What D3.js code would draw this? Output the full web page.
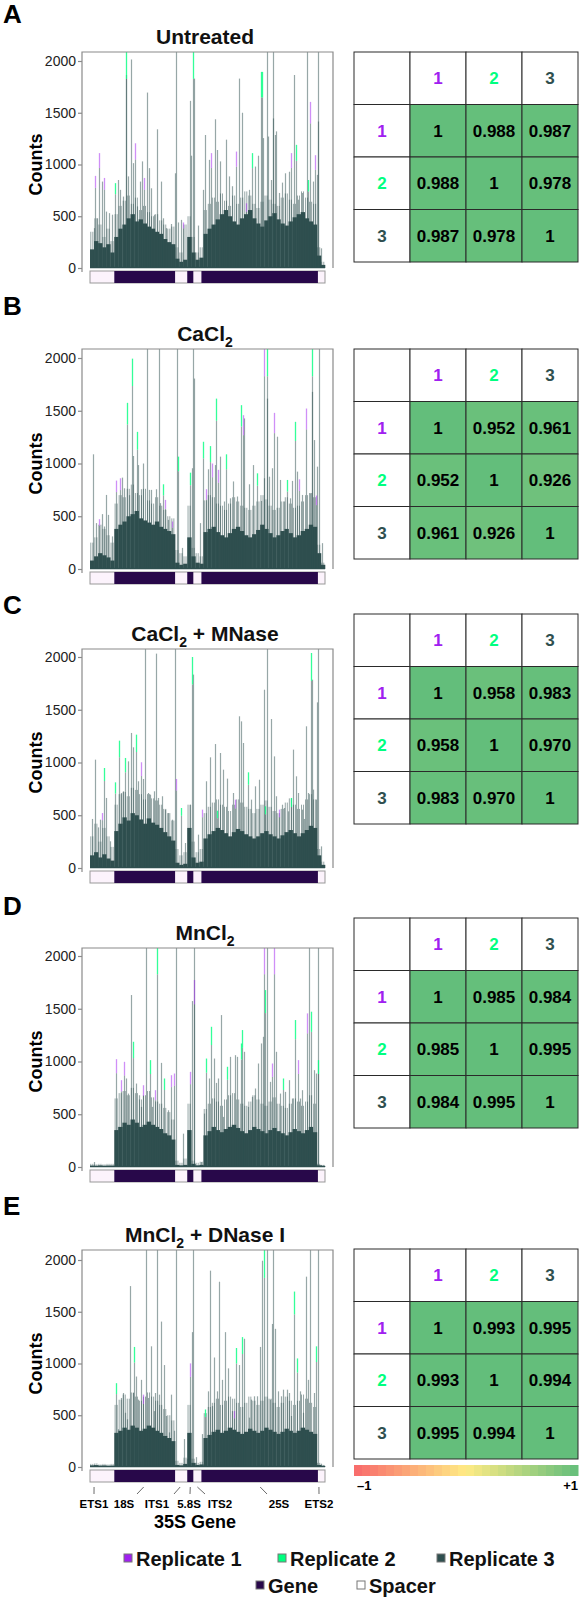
<!DOCTYPE html>
<html>
<head>
<meta charset="utf-8" />
<script src="https://cdn.jsdelivr.net/npm/d3@7"></script>
<style>
  body { margin: 0; background: #fff; }
  text { font-family: "Liberation Sans", Arial, sans-serif; }
</style>
</head>
<body>
<div id="fig"></div>
<script>
var W = 580, H = 1598;

// 35S locus in ~30 bp bins (0..232)
var nBins = 232;
var regions = ["ETS1", "18S", "ITS1", "5.8S", "ITS2", "25S", "ETS2"];
var regionStart = [0, 24, 84, 96, 102, 110, 225];
var regionEnd = [24, 84, 96, 102, 110, 225, 232];
var regionType = ["Spacer", "Gene", "Spacer", "Gene", "Spacer", "Gene", "Spacer"];
var labelBins = [4, 53, 89, 99, 106, 168, 226];

var panelLetters = ["A", "B", "C", "D", "E"];
var panelTitles = ["Untreated", "CaCl_2", "CaCl_2 + MNase", "MnCl_2", "MnCl_2 + DNase I"];
var yTicks = [0, 500, 1000, 1500, 2000];
var repNames = ["Replicate 1", "Replicate 2", "Replicate 3"];
var repColors = ["#a020f0", "#00ff7f", "#2f4f4f"];
var matrixLabels = ["1", "2", "3"];

// solid coverage of all replicates, one value per 4 locus bins
var baseUntreated = [180, 260, 240, 200, 230, 150,
  300, 380, 420, 480, 520, 450, 470, 430, 400, 380, 350, 330, 280, 250, 230,
  90, 60, 80, 300, 150, 80, 100,
  330, 380, 420, 470, 520, 560, 500, 450, 420, 480, 520, 560, 480, 430, 400, 460, 500, 530, 470, 430, 410, 450, 490, 520, 540, 480, 450, 420,
  120, 30];
var baseCaCl2 = [80, 120, 150, 130, 110, 80,
  380, 420, 450, 500, 520, 550, 480, 460, 440, 420, 450, 400, 380, 360, 330,
  60, 40, 50, 300, 120, 60, 50,
  350, 380, 400, 350, 320, 300, 340, 380, 400, 360, 320, 300, 330, 370, 420, 380, 340, 300, 320, 360, 380, 340, 300, 320, 360, 380, 420, 400,
  150, 40];
var baseCaCl2MNase = [120, 150, 100, 130, 90, 70,
  350, 420, 480, 450, 520, 500, 460, 420, 470, 430, 410, 380, 340, 300, 260,
  50, 30, 40, 380, 100, 50, 60,
  280, 320, 350, 380, 360, 330, 300, 340, 370, 350, 320, 300, 280, 300, 330, 350, 320, 300, 280, 310, 340, 360, 330, 300, 330, 360, 400, 380,
  120, 30];
var baseMnCl2 = [12, 10, 14, 10, 12, 12,
  350, 380, 420, 400, 450, 420, 380, 400, 430, 400, 380, 360, 320, 300, 260,
  20, 15, 20, 350, 30, 15, 20,
  300, 340, 380, 350, 330, 360, 380, 400, 370, 340, 320, 350, 380, 360, 340, 320, 350, 370, 340, 320, 300, 330, 360, 340, 320, 350, 380, 330,
  15, 10];
var baseMnCl2DNase = [15, 18, 12, 14, 10, 12,
  330, 350, 380, 360, 400, 380, 350, 370, 400, 380, 350, 330, 300, 280, 250,
  20, 15, 30, 330, 40, 20, 25,
  280, 310, 340, 360, 330, 350, 380, 360, 340, 320, 340, 370, 350, 330, 350, 380, 360, 340, 320, 340, 370, 350, 330, 350, 380, 360, 340, 320,
  20, 10];

// upper edge of the dense band of overlapping bars, one value per 4 locus bins
var fuzzUntreated = [350, 480, 420, 300, 380, 260,
  520, 600, 650, 700, 620, 680, 560, 600, 540, 500, 520, 460, 420, 380, 400,
  200, 150, 420, 500, 300, 150, 200,
  560, 620, 680, 640, 720, 650, 600, 700, 620, 680, 740, 700, 620, 580, 640, 700, 660, 620, 600, 680, 720, 660, 620, 700, 740, 680, 640, 620,
  200, 60];
var fuzzCaCl2 = [250, 300, 420, 380, 320, 250,
  620, 700, 680, 760, 800, 720, 700, 760, 650, 620, 680, 600, 560, 500, 480,
  180, 150, 120, 600, 200, 150, 120,
  650, 700, 680, 620, 600, 560, 620, 680, 640, 600, 580, 560, 600, 640, 700, 660, 600, 560, 580, 640, 680, 620, 580, 600, 640, 700, 720, 680,
  230, 60];
var fuzzCaCl2MNase = [300, 420, 250, 380, 300, 200,
  600, 700, 720, 680, 760, 740, 700, 650, 700, 660, 640, 600, 560, 520, 450,
  180, 120, 150, 600, 250, 150, 180,
  520, 580, 620, 650, 600, 580, 540, 600, 650, 620, 580, 560, 520, 560, 600, 640, 580, 540, 520, 560, 620, 660, 600, 560, 600, 650, 700, 650,
  180, 60];
var fuzzMnCl2 = [30, 25, 30, 25, 30, 30,
  650, 700, 720, 680, 750, 700, 640, 680, 720, 660, 620, 600, 560, 520, 450,
  60, 40, 80, 600, 60, 40, 50,
  550, 600, 650, 620, 580, 640, 680, 700, 640, 600, 580, 620, 680, 640, 600, 580, 620, 660, 600, 580, 560, 600, 650, 620, 580, 620, 680, 600,
  30, 20];
var fuzzMnCl2DNase = [30, 35, 25, 30, 25, 30,
  600, 650, 700, 660, 720, 680, 640, 680, 720, 680, 640, 600, 560, 500, 450,
  60, 40, 90, 600, 80, 40, 50,
  520, 580, 620, 660, 600, 640, 680, 660, 620, 580, 620, 680, 640, 600, 640, 680, 660, 620, 580, 620, 680, 640, 600, 640, 700, 660, 620, 580,
  40, 20];

// individual peaks: [locus bin, counts, replicate reaching the top]
var peaksUntreated = [[4,385,3],[4.5,890,1],[7,480,3],[8.5,1110,1],[12,835,3],[14,870,1],[16,545,3],[19,530,3],[22,515,3],[25,820,2],[27.5,850,3],[30,755,3],[33,690,3],[35.5,2100,2],[36,1865,3],[37.5,885,3],[40,2015,3],[42,1013,3],[44,1205,1],[46,595,3],[49,835,3],[51,1030,3],[53,870,1],[56,1695,3],[58,965,3],[60,770,3],[63,515,3],[66,1340,3],[70,835,3],[72,480,3],[75,385,3],[80,425,3],[84.5,2100,3],[84,915,3],[87,440,3],[90,465,3],[92,440,1],[99,1615,3],[100,1085,3],[102,2100,2],[102.5,1830,3],[107,410,3],[112,755,3],[114,1285,3],[117,1045,3],[119,1110,1],[123,1437,3],[125,1140,3],[128,1030,3],[130,370,3],[134,1240,3],[137,885,3],[140,790,3],[144,1125,1],[147,1830,3],[150,1500,3],[154,625,1],[157,755,3],[160,1110,2],[163,980,3],[166,1085,3],[169,1895,2],[170,1895,2],[171,1255,3],[175,2100,3],[176,1270,3],[179,850,3],[180.5,2100,3],[181,1445,3],[183,1285,3],[184,1320,3],[187,725,3],[190,825,3],[193,915,3],[196,930,3],[198,1110,1],[201,1865,3],[203,1190,2],[205,660,3],[209,725,3],[210,530,3],[214,2100,3],[215,850,2],[217,1605,1],[220,835,3],[222,1090,1],[224,900,3],[224.7,2100,3],[225.5,1415,3],[228,190,3]];
var peaksCaCl2 = [[3.3,1087,3],[6,435,3],[8.7,472,1],[11.7,520,3],[14,403,3],[16,702,3],[17.7,513,3],[21.7,309,3],[26,838,1],[29.3,860,1],[31.7,866,3],[34,765,3],[36.7,1575,2],[38.3,700,3],[41,1994,2],[42.7,1071,3],[46,1300,2],[47.7,985,3],[50,756,3],[52.7,1000,3],[56.7,2100,3],[58.3,750,3],[60.7,750,3],[65,756,3],[67.7,2100,3],[69.3,624,3],[72.3,803,2],[74,655,1],[77.3,466,3],[80.7,450,1],[85.7,2100,3],[86.7,1065,2],[90.7,200,3],[98.3,913,2],[100.7,955,3],[101.7,2100,3],[103,1805,3],[108.3,435,3],[111.7,1206,2],[114.7,756,1],[116.3,945,3],[118.3,1165,2],[120.7,1000,1],[123,985,3],[124,1615,2],[126.3,940,1],[128.7,1065,3],[132,640,3],[134.7,1087,2],[138,670,3],[141.3,830,3],[144.7,687,3],[148.7,1553,2],[150.7,1458,1],[152.3,1427,3],[157.3,803,3],[161.3,985,3],[164.7,907,2],[168.7,645,3],[171.3,860,3],[172,2100,1],[174.7,2100,2],[175,1615,3],[177,875,3],[179.7,955,3],[182,1480,1],[184.3,1254,3],[188,844,3],[192,640,3],[194.7,844,2],[197,670,3],[199.7,835,3],[202.7,1395,2],[204.7,923,3],[206,850,1],[209.7,702,3],[213.7,1521,1],[217,718,3],[219.3,2100,2],[219.6,1679,3],[221,1222,3],[222.7,696,1],[224.3,970,3],[226,2100,3],[228.7,245,3]];
var peaksCaCl2MNase = [[2.3,465,3],[5,1027,3],[7.7,385,3],[10,458,3],[11.7,521,1],[14.3,948,2],[16,664,3],[20,253,3],[25,812,2],[28.3,1207,2],[30.7,711,3],[32.7,727,3],[35,1043,2],[37.7,1011,3],[40,1280,3],[42.7,1144,3],[45,1264,2],[47.3,822,3],[50.7,1002,1],[52.3,844,3],[54.7,2100,3],[57.3,711,3],[59.7,695,3],[63,727,3],[65,2032,3],[67.3,664,3],[70.7,680,3],[74,553,3],[77.3,521,3],[80.7,458,3],[84,2100,3],[84.7,844,1],[90,569,2],[94,237,3],[98.3,600,3],[100.7,2000,2],[101.7,1833,3],[106.7,316,3],[110.7,553,1],[115,822,3],[118.3,1049,3],[123,1175,3],[125.7,543,2],[128,1090,3],[131.7,932,3],[135,847,3],[140.7,711,3],[143.3,648,1],[147.3,1438,3],[149,1390,3],[151.3,1185,3],[155.7,907,2],[158.7,648,3],[163,774,3],[167.3,837,3],[171.3,1690,3],[173,585,2],[174.7,2100,3],[178.7,1412,3],[181.3,1058,3],[184,680,3],[186.3,553,1],[189.7,600,3],[192,569,3],[195.3,537,3],[198,664,2],[200.3,1122,3],[203,869,3],[205.3,711,3],[209.3,553,3],[211.3,465,3],[213.7,1343,3],[215.3,711,3],[217.7,2038,2],[218.7,1785,3],[220.3,743,3],[223,648,3],[224.5,1570,3],[225,2100,3],[228,205,3]];
var peaksMnCl2 = [[3.7,47,3],[25.3,1022,1],[27.7,380,3],[31,823,1],[33.7,997,1],[35.3,839,3],[37.7,696,3],[40.3,1630,3],[42.7,1187,2],[45,791,3],[48.3,680,3],[50.3,570,3],[52.7,775,1],[55,2100,3],[59.3,1013,2],[61.7,570,3],[64,728,1],[66,2100,2],[70,987,3],[72.7,839,2],[76.7,538,3],[80,870,1],[83.3,886,1],[85,2100,3],[92.3,316,3],[98.3,902,1],[100.7,1573,3],[102.7,2100,3],[103,1772,1],[109.3,47,3],[112.7,506,3],[115,1028,2],[117.3,839,3],[119.3,1329,2],[122.3,1028,3],[124,797,3],[126,839,3],[129,1440,3],[131.7,475,3],[135,950,2],[138.3,1044,3],[142.7,1060,3],[145,1044,3],[149,1171,2],[150,1298,2],[152.3,1092,3],[155.7,570,3],[159.7,665,3],[163.3,744,3],[166.3,981,3],[169,1171,3],[170.7,1234,3],[171.7,2100,1],[172.3,1677,2],[174.7,2100,3],[177.3,807,3],[179.7,981,1],[181.7,2100,1],[184,1092,3],[187.3,696,3],[190.7,839,2],[193,712,3],[196.3,823,3],[199,649,3],[202.3,1393,2],[205,1013,1],[207.3,649,3],[209.7,728,3],[214,1456,1],[216.3,2100,3],[218,1472,2],[221.3,918,3],[223,886,3],[224.7,2100,3],[225.3,1013,2],[228,16,3]];
var peaksMnCl2DNase = [[3.7,22,3],[25.3,810,2],[27.7,365,3],[30.3,667,3],[32.7,715,3],[35,524,3],[37,461,3],[39.3,1748,3],[42,715,3],[43.7,1160,2],[45.3,874,3],[47,651,3],[50.3,842,3],[52.7,699,1],[55.3,2100,3],[57.7,667,3],[60,1166,3],[62.7,540,3],[64.3,715,3],[66,2100,3],[67.7,699,3],[70,1405,3],[72.7,985,3],[75,493,3],[77.7,334,3],[80.3,699,3],[82.7,350,3],[85,2100,3],[92.7,270,3],[96,80,3],[98.7,1001,1],[101,1303,3],[101.7,2100,3],[104.3,95,3],[111,318,3],[114,556,2],[116,731,3],[118.3,1897,3],[120.7,588,3],[122.7,1058,3],[125,731,3],[127.7,1790,3],[130,842,3],[133.3,1303,3],[136,953,3],[140,540,3],[142.3,540,1],[144.3,1150,2],[147.3,985,3],[150,1255,2],[152.3,1239,3],[156.7,477,3],[159.3,651,3],[161.7,683,3],[165,683,3],[168.3,1160,3],[170,1993,3],[171.7,2100,2],[175,2100,3],[177.7,651,3],[180,1382,3],[180.7,2100,3],[183,1335,3],[185.7,731,3],[188.3,683,3],[190.7,747,3],[194,747,3],[196.3,715,3],[198.3,493,3],[201,1695,2],[204,1049,2],[207.7,731,3],[210,524,3],[211.7,365,3],[213.3,1839,3],[215,842,3],[217.3,2100,3],[220.7,715,3],[223.3,1166,2],[225,2100,3],[228.3,32,3]];

// Pearson correlation between replicates
var corrUntreated = [[1, 0.988, 0.987], [0.988, 1, 0.978], [0.987, 0.978, 1]];
var corrCaCl2 = [[1, 0.952, 0.961], [0.952, 1, 0.926], [0.961, 0.926, 1]];
var corrCaCl2MNase = [[1, 0.958, 0.983], [0.958, 1, 0.970], [0.983, 0.970, 1]];
var corrMnCl2 = [[1, 0.985, 0.984], [0.985, 1, 0.995], [0.984, 0.995, 1]];
var corrMnCl2DNase = [[1, 0.993, 0.995], [0.993, 1, 0.994], [0.995, 0.994, 1]];

var bases = [baseUntreated, baseCaCl2, baseCaCl2MNase, baseMnCl2, baseMnCl2DNase];
var fuzzes = [fuzzUntreated, fuzzCaCl2, fuzzCaCl2MNase, fuzzMnCl2, fuzzMnCl2DNase];
var peaks = [peaksUntreated, peaksCaCl2, peaksCaCl2MNase, peaksMnCl2, peaksMnCl2DNase];
var corrs = [corrUntreated, corrCaCl2, corrCaCl2MNase, corrMnCl2, corrMnCl2DNase];

// layout
var plotTop = [52, 349, 649, 948, 1250];
var yAt2000 = [61, 358, 657, 956, 1260];
var yAt0 = [268, 569, 868, 1167, 1467];
var letterY = [23, 315, 614, 915, 1215];
var tableTop = [52, 349, 614, 918, 1249];
var axisX = 82, frameR = 333, xL = 90, xR = 325;
var tabX = 354, colW = 56, rowH = 52.5;

var svg = d3.select("#fig").append("svg").attr("width", W).attr("height", H);

var x = d3.scaleLinear().domain([0, nBins]).range([xL, xR]);
var corrColor = d3.scaleLinear().domain([-1, 0, 1]).range(["#f8696b", "#ffeb84", "#63be7b"]);

function addTitle(str, cx, by) {
  var t = svg.append("text").attr("x", cx).attr("y", by)
    .attr("text-anchor", "middle").attr("font-size", 21).attr("font-weight", "bold").attr("fill", "#111");
  str.split("_2").forEach(function(p, k) {
    if (k > 0) {
      t.append("tspan").attr("font-size", 14).attr("dy", 6).text("2");
      if (p !== "") t.append("tspan").attr("dy", -6).text(p);
    } else {
      t.append("tspan").text(p);
    }
  });
}

panelLetters.forEach(function(letter, i) {
  var top = plotTop[i], y0 = yAt0[i];
  var y = d3.scaleLinear().domain([0, 2000]).range([y0, yAt2000[i]]);
  var yCap = y.invert(top);
  function yy(v) { return y(Math.min(v, yCap)); }

  svg.append("text").attr("x", 3).attr("y", letterY[i])
    .attr("font-size", 26).attr("font-weight", "bold").attr("fill", "#000").text(letter);
  addTitle(panelTitles[i], 205, top - 8);

  var g = svg.append("g");

  // dense band of overlapping bars
  var fz = [];
  fuzzes[i].forEach(function(v, k) { fz.push([k * 4 + 0.8, v]); fz.push([k * 4 + 2.8, v]); });
  g.selectAll("line.fz").data(fz).enter().append("line")
    .attr("x1", function(d) { return x(d[0]); }).attr("x2", function(d) { return x(d[0]); })
    .attr("y1", y0).attr("y2", function(d) { return yy(d[1]); })
    .attr("stroke", repColors[2]).attr("stroke-opacity", 0.5).attr("stroke-width", 1);

  // solid coverage
  g.selectAll("rect.base").data(bases[i]).enter().append("rect")
    .attr("x", function(d, k) { return x(k * 4); })
    .attr("width", function(d, k) { return x((k + 1) * 4) - x(k * 4) + 0.3; })
    .attr("y", function(d) { return yy(d); })
    .attr("height", function(d) { return y0 - yy(d); })
    .attr("fill", repColors[2]);

  // peaks: body of the bar
  g.selectAll("line.pk").data(peaks[i]).enter().append("line")
    .attr("x1", function(d) { return Math.round(x(d[0])) + 0.5; })
    .attr("x2", function(d) { return Math.round(x(d[0])) + 0.5; })
    .attr("y1", y0)
    .attr("y2", function(d) { return yy(d[2] === 3 ? d[1] : d[1] * 0.87); })
    .attr("stroke", repColors[2]).attr("stroke-opacity", 0.5).attr("stroke-width", 1.2);

  // peaks: tips of replicates 1 and 2
  g.selectAll("line.tip").data(peaks[i].filter(function(d) { return d[2] !== 3; })).enter().append("line")
    .attr("x1", function(d) { return Math.round(x(d[0])) + 0.5; })
    .attr("x2", function(d) { return Math.round(x(d[0])) + 0.5; })
    .attr("y1", function(d) { return yy(d[1] * 0.87); })
    .attr("y2", function(d) { return yy(d[1]); })
    .attr("stroke", function(d) { return repColors[d[2] - 1]; })
    .attr("stroke-opacity", function(d) { return d[2] === 1 ? 0.5 : 0.8; })
    .attr("stroke-width", 1.3);

  // baseline
  g.append("line").attr("x1", xL).attr("x2", xR).attr("y1", y0 - 0.5).attr("y2", y0 - 0.5)
    .attr("stroke", repColors[2]).attr("stroke-width", 1.5);

  // frame
  var frame = "#8a8a8a";
  g.append("path").attr("d", "M" + axisX + "," + (y0 + 4) + "V" + top + "H" + frameR + "V" + y0)
    .attr("fill", "none").attr("stroke", frame).attr("stroke-width", 1.2);

  var ax = g.append("g").attr("transform", "translate(" + axisX + ",0)")
    .call(d3.axisLeft(y).tickValues(yTicks).tickFormat(d3.format("d")).tickSize(4).tickPadding(2));
  ax.select(".domain").remove();
  ax.selectAll(".tick line").attr("stroke", frame).attr("stroke-width", 1.2);
  ax.selectAll(".tick text").attr("font-size", 14).attr("fill", "#222")
    .attr("font-family", "Liberation Sans, Arial, sans-serif");

  svg.append("text").attr("transform", "translate(42," + ((y0 + yAt2000[i]) / 2) + ") rotate(-90)")
    .attr("text-anchor", "middle").attr("font-size", 18).attr("font-weight", "bold").attr("fill", "#000")
    .text("Counts");

  // gene map
  var gb = y0 + 3;
  g.append("rect").attr("x", xL).attr("y", gb).attr("width", xR - xL).attr("height", 12)
    .attr("fill", "#fcf3fc").attr("stroke", "#999").attr("stroke-width", 1);
  g.selectAll("rect.gene").data(regions.filter(function(r, k) { return regionType[k] === "Gene"; }))
    .enter().append("rect")
    .attr("x", function(r) { return x(regionStart[regions.indexOf(r)]); })
    .attr("width", function(r) { var k = regions.indexOf(r); return x(regionEnd[k]) - x(regionStart[k]); })
    .attr("y", gb).attr("height", 12).attr("fill", "#28084a");

  // correlation table
  var tt = tableTop[i];
  var tg = svg.append("g");
  var cells = [];
  for (var r = 0; r < 4; r++) {
    for (var c = 0; c < 4; c++) {
      var txt = "", col = "#000", fill = "#fff";
      if (r === 0 && c > 0) { txt = matrixLabels[c - 1]; col = repColors[c - 1]; }
      else if (c === 0 && r > 0) { txt = matrixLabels[r - 1]; col = repColors[r - 1]; }
      else if (r > 0 && c > 0) {
        var v = corrs[i][r - 1][c - 1];
        txt = v === 1 ? "1" : v.toFixed(3);
        fill = corrColor(v);
      }
      cells.push({ r: r, c: c, txt: txt, col: col, fill: fill });
    }
  }
  tg.selectAll("rect").data(cells).enter().append("rect")
    .attr("x", function(d) { return tabX + d.c * colW; })
    .attr("y", function(d) { return tt + d.r * rowH; })
    .attr("width", colW).attr("height", rowH)
    .attr("fill", function(d) { return d.fill; })
    .attr("stroke", "#2a2a2a").attr("stroke-width", 1);
  tg.selectAll("text").data(cells.filter(function(d) { return d.txt !== ""; })).enter().append("text")
    .attr("x", function(d) { return tabX + d.c * colW + colW / 2; })
    .attr("y", function(d) { return tt + d.r * rowH + rowH / 2 + 6; })
    .attr("text-anchor", "middle").attr("font-size", 17).attr("font-weight", "bold")
    .attr("fill", function(d) { return d.col; })
    .text(function(d) { return d.txt; });
});

// colour bar
var steps = d3.range(28);
svg.selectAll("rect.cb").data(steps).enter().append("rect")
  .attr("x", function(k) { return tabX + k * (4 * colW / 28); })
  .attr("y", 1465).attr("width", 4 * colW / 28 + 0.5).attr("height", 11)
  .attr("fill", function(k) { return corrColor(-1 + 2 * (k + 0.5) / 28); });
svg.append("text").attr("x", tabX + 3).attr("y", 1490).attr("font-size", 13).attr("font-weight", "bold").text("\u20131");
svg.append("text").attr("x", tabX + 4 * colW).attr("y", 1490).attr("text-anchor", "end")
  .attr("font-size", 13).attr("font-weight", "bold").text("+1");

// region labels under last panel
var labelTextX = [94, 124, 157, 189, 220, 279, 319];
var leaderEndX = [94, 137, 174, 190, 205, 267, 319];
var lt = yAt0[4] + 20, lb = yAt0[4] + 27;
regions.forEach(function(name, k) {
  svg.append("line").attr("x1", x(labelBins[k])).attr("y1", lt).attr("x2", leaderEndX[k]).attr("y2", lb)
    .attr("stroke", "#444").attr("stroke-width", 0.8);
  svg.append("text").attr("x", labelTextX[k]).attr("y", 1508).attr("text-anchor", "middle")
    .attr("font-size", 11.5).attr("font-weight", "bold").text(name);
});
svg.append("text").attr("x", 195).attr("y", 1528).attr("text-anchor", "middle")
  .attr("font-size", 18).attr("font-weight", "bold").text("35S Gene");

// legend
var legItems = [
  { name: repNames[0], fill: repColors[0], sx: 124, tx: 136, by: 1566 },
  { name: repNames[1], fill: repColors[1], sx: 278, tx: 290, by: 1566 },
  { name: repNames[2], fill: repColors[2], sx: 437, tx: 449, by: 1566 },
  { name: "Gene", fill: "#28084a", sx: 256, tx: 268, by: 1593 },
  { name: "Spacer", fill: "#fff", sx: 357, tx: 369, by: 1593 }
];
var lg = svg.append("g");
lg.selectAll("rect").data(legItems).enter().append("rect")
  .attr("x", function(d) { return d.sx; }).attr("y", function(d) { return d.by - 12; })
  .attr("width", 8).attr("height", 8)
  .attr("fill", function(d) { return d.fill; }).attr("stroke", "#777").attr("stroke-width", 1);
lg.selectAll("text").data(legItems).enter().append("text")
  .attr("x", function(d) { return d.tx; }).attr("y", function(d) { return d.by; })
  .attr("font-size", 20).attr("font-weight", "bold").attr("fill", "#111")
  .text(function(d) { return d.name; });
</script>
</body>
</html>
